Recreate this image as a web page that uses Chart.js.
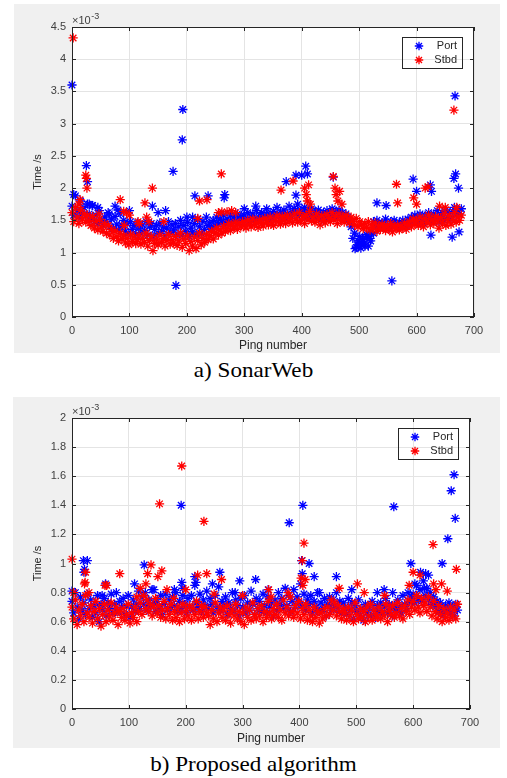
<!DOCTYPE html>
<html>
<head>
<meta charset="utf-8">
<script src="https://cdn.jsdelivr.net/npm/chart.js@4.4.1/dist/chart.umd.min.js"></script>
<style>
  body { margin: 0; background: #fff; width: 507px; height: 778px; position: relative; overflow: hidden; }
  .panel { position: absolute; background: #f0f0f0; }
  .cap { position: absolute; left: 0; width: 507px; text-align: center;
         font-family: "Liberation Serif", "Times New Roman", serif; font-size: 21px; line-height: 24px;
         color: #000; transform: scaleX(1.1); }
</style>
</head>
<body>
<div class="panel" style="left:14px;top:4px;width:486px;height:349px"><canvas id="chartA"></canvas></div>
<div class="cap" style="top:358px">a) SonarWeb</div>
<div class="panel" style="left:13px;top:397px;width:487px;height:351px"><canvas id="chartB"></canvas></div>
<div class="cap" style="top:752px">b) Proposed algorithm</div>
<script>
// Values are in units of 1e-3 s, sampled every PING_STEP pings (ping 0 .. 678)
const PING_STEP = 3;

// ---- a) SonarWeb ----
const portA = [
  1.72, 1.58, 1.88, 1.65, 1.55, 1.80, 1.62, 1.70, 1.57, 1.75,
  1.60, 1.52, 1.73, 1.48, 1.58, 1.45, 1.65, 1.50, 1.42, 1.55,
  1.48, 1.62, 1.40, 1.52, 1.37, 1.56, 1.44, 1.35, 1.60, 1.42,
  1.50, 1.33, 1.45, 1.30, 1.48, 1.36, 1.42, 1.28, 1.46, 1.38,
  1.30, 1.43, 1.34, 1.48, 1.27, 1.40, 1.45, 1.25, 1.36, 1.42,
  1.30, 1.46, 1.33, 1.40, 1.26, 1.38, 1.48, 1.31, 1.43, 1.35,
  1.45, 1.28, 1.40, 1.50, 1.27, 1.42, 1.33, 1.47, 1.25, 1.38,
  1.32, 1.45, 1.28, 1.52, 1.40, 1.30, 1.48, 1.36, 1.55, 1.42,
  1.46, 1.38, 1.50, 1.42, 1.55, 1.44, 1.52, 1.47, 1.58, 1.45,
  1.52, 1.48, 1.58, 1.45, 1.55, 1.50, 1.60, 1.47, 1.56, 1.52,
  1.58, 1.50, 1.62, 1.48, 1.55, 1.60, 1.52, 1.65, 1.50, 1.57,
  1.62, 1.53, 1.58, 1.68, 1.55, 1.60, 1.52, 1.64, 1.57, 1.70,
  1.55, 1.62, 1.58, 1.66, 1.53, 1.60, 1.72, 1.57, 1.63, 1.68,
  1.60, 1.75, 1.58, 1.66, 1.62, 1.70, 1.55, 1.64, 1.60, 1.68,
  1.57, 1.63, 1.55, 1.66, 1.60, 1.52, 1.62, 1.58, 1.65, 1.55,
  1.60, 1.68, 1.57, 1.63, 1.55, 1.66, 1.58, 1.62, 1.54, 1.60,
  1.55, 1.48, 1.40, 1.22, 1.30, 1.08, 1.18, 1.25, 1.12, 1.20,
  1.15, 1.28, 1.10, 1.22, 1.32, 1.48, 1.42, 1.50, 1.45, 1.38,
  1.46, 1.40, 1.52, 1.43, 1.37, 1.48, 1.41, 1.50, 1.44, 1.39,
  1.47, 1.42, 1.50, 1.45, 1.40, 1.52, 1.46, 1.55, 1.48, 1.58,
  1.53, 1.47, 1.60, 1.52, 1.45, 1.58, 1.50, 1.62, 1.48, 1.56,
  1.60, 1.52, 1.65, 1.48, 1.57, 1.62, 1.50, 1.66, 1.55, 1.60,
  1.52, 1.64, 1.70, 1.58, 1.66, 1.60, 1.68
];
const stbdA = [
  1.62, 1.48, 1.70, 1.55, 1.45, 1.66, 1.52, 1.60, 1.47, 1.58,
  1.50, 1.42, 1.56, 1.38, 1.48, 1.35, 1.52, 1.40, 1.33, 1.45,
  1.30, 1.42, 1.27, 1.36, 1.22, 1.33, 1.25, 1.18, 1.30, 1.21,
  1.26, 1.15, 1.22, 1.12, 1.28, 1.17, 1.24, 1.14, 1.20, 1.27,
  1.13, 1.22, 1.16, 1.30, 1.10, 1.19, 1.25, 1.03, 1.14, 1.21,
  1.12, 1.27, 1.16, 1.22, 1.10, 1.19, 1.28, 1.13, 1.20, 1.15,
  1.25, 1.11, 1.18, 1.30, 1.08, 1.21, 1.14, 1.26, 1.03, 1.17,
  1.10, 1.24, 1.06, 1.19, 1.30, 1.12, 1.22, 1.16, 1.28, 1.20,
  1.26, 1.33, 1.21, 1.30, 1.38, 1.27, 1.35, 1.30, 1.41, 1.33,
  1.37, 1.45, 1.34, 1.42, 1.38, 1.47, 1.36, 1.44, 1.40, 1.48,
  1.42, 1.38, 1.50, 1.44, 1.40, 1.52, 1.43, 1.47, 1.39, 1.51,
  1.45, 1.41, 1.53, 1.47, 1.43, 1.55, 1.46, 1.42, 1.50, 1.57,
  1.48, 1.44, 1.56, 1.50, 1.45, 1.58, 1.49, 1.53, 1.46, 1.60,
  1.52, 1.47, 1.62, 1.50, 1.56, 1.45, 1.58, 1.51, 1.64, 1.49,
  1.55, 1.47, 1.60, 1.52, 1.43, 1.57, 1.50, 1.46, 1.59, 1.53,
  1.48, 1.62, 1.51, 1.56, 1.45, 1.60, 1.50, 1.55, 1.47, 1.58,
  1.52, 1.46, 1.55, 1.49, 1.43, 1.53, 1.40, 1.48, 1.44, 1.37,
  1.45, 1.39, 1.48, 1.35, 1.43, 1.38, 1.46, 1.33, 1.41, 1.36,
  1.44, 1.38, 1.34, 1.42, 1.36, 1.45, 1.32, 1.40, 1.37, 1.43,
  1.35, 1.41, 1.38, 1.46, 1.36, 1.43, 1.48, 1.40, 1.52, 1.44,
  1.50, 1.42, 1.55, 1.46, 1.40, 1.53, 1.47, 1.58, 1.43, 1.51,
  1.45, 1.56, 1.49, 1.38, 1.54, 1.46, 1.60, 1.42, 1.51, 1.57,
  1.44, 1.52, 1.62, 1.47, 1.55, 1.50, 1.58
];
// isolated points (ping, time)
const portAOutPing = [0, 3, 25, 27, 30, 35, 45, 65, 75, 80, 100, 140, 150, 163, 176, 181, 192, 193, 200, 210,
  214, 237, 265, 266, 300, 320, 373, 390, 390, 400, 407, 410, 455, 493, 497, 500, 503, 506, 510, 515,
  520, 525, 531, 547, 557, 594, 600, 624, 625, 626, 662, 665, 667, 668, 673, 674];
const portAOutTime = [3.60, 1.90, 2.35, 2.10, 1.75, 1.73, 1.70, 1.60, 1.72, 1.66, 1.65, 1.72, 1.62, 1.65, 2.26, 0.49, 2.75, 3.22, 1.55, 1.55,
  1.88, 1.88, 1.85, 1.90, 1.68, 1.72, 2.10, 2.20, 1.89, 2.20, 2.34, 2.22, 2.17, 1.06, 1.12, 1.15, 1.07, 1.20, 1.10, 1.25,
  1.18, 1.30, 1.77, 1.73, 0.56, 2.14, 1.95, 2.05, 1.27, 1.95, 1.24, 2.15, 3.43, 2.22, 2.00, 1.32];
const stbdAOutPing = [2, 12, 14, 24, 25, 26, 47, 84, 90, 91, 95, 100, 115, 117, 127, 130, 134, 140, 160, 219,
  222, 235, 255, 260, 261, 270, 278, 285, 364, 385, 405, 408, 410, 412, 415, 455, 458, 460, 463, 466,
  470, 565, 567, 595, 600, 615, 620, 640, 650, 665, 670];
const stbdAOutTime = [4.33, 1.75, 1.82, 2.20, 2.15, 2.00, 1.60, 1.82, 1.64, 1.42, 1.62, 1.58, 1.48, 1.45, 1.77, 1.55, 1.48, 2.00, 1.48, 1.53,
  1.80, 1.82, 1.62, 2.22, 1.63, 1.63, 1.65, 1.62, 1.97, 2.11, 2.00, 1.90, 1.80, 2.05, 1.75, 2.18, 2.00, 1.90, 1.80, 1.95,
  1.75, 2.06, 1.77, 1.85, 1.75, 2.00, 2.02, 1.72, 1.70, 3.21, 1.70];

// ---- b) Proposed algorithm ----
const portB = [
  0.74, 0.66, 0.80, 0.70, 0.62, 0.77, 0.68, 0.73, 0.65, 0.79,
  0.69, 0.75, 0.63, 0.71, 0.66, 0.78, 0.60, 0.72, 0.68, 0.76,
  0.64, 0.73, 0.69, 0.79, 0.66, 0.72, 0.80, 0.67, 0.74, 0.70,
  0.76, 0.65, 0.71, 0.78, 0.63, 0.70, 0.75, 0.67, 0.72, 0.81,
  0.69, 0.77, 0.72, 0.80, 0.68, 0.75, 0.71, 0.82, 0.73, 0.67,
  0.74, 0.69, 0.78, 0.65, 0.72, 0.79, 0.68, 0.75, 0.70, 0.77,
  0.71, 0.80, 0.67, 0.74, 0.69, 0.83, 0.72, 0.66, 0.76, 0.70,
  0.78, 0.68, 0.85, 0.73, 0.70, 0.79, 0.67, 0.75, 0.71, 0.81,
  0.69, 0.76, 0.72, 0.66, 0.78, 0.70, 0.84, 0.68, 0.74, 0.71,
  0.77, 0.65, 0.73, 0.69, 0.80, 0.67, 0.75, 0.71, 0.64, 0.76,
  0.70, 0.78, 0.66, 0.73, 0.68, 0.81, 0.72, 0.65, 0.76, 0.69,
  0.74, 0.67, 0.79, 0.71, 0.66, 0.77, 0.70, 0.73, 0.64, 0.75,
  0.68, 0.80, 0.72, 0.76, 0.69, 0.83, 0.71, 0.78, 0.67, 0.74,
  0.82, 0.70, 0.77, 0.73, 0.86, 0.71, 0.79, 0.68, 0.75, 0.72,
  0.78, 0.66, 0.74, 0.70, 0.80, 0.67, 0.73, 0.69, 0.76, 0.64,
  0.72, 0.77, 0.68, 0.75, 0.71, 0.80, 0.69, 0.74, 0.66, 0.73,
  0.70, 0.65, 0.76, 0.68, 0.73, 0.62, 0.71, 0.67, 0.75, 0.64,
  0.69, 0.61, 0.72, 0.66, 0.70, 0.64, 0.74, 0.68, 0.63, 0.71,
  0.67, 0.73, 0.65, 0.70, 0.76, 0.66, 0.72, 0.69, 0.64, 0.71,
  0.68, 0.75, 0.70, 0.66, 0.78, 0.72, 0.69, 0.80, 0.74, 0.77,
  0.79, 0.73, 0.85, 0.76, 0.82, 0.74, 0.88, 0.78, 0.83, 0.75,
  0.80, 0.72, 0.77, 0.70, 0.74, 0.67, 0.73, 0.69, 0.65, 0.71,
  0.68, 0.73, 0.66, 0.70, 0.64, 0.72, 0.68
];
const stbdB = [
  0.70, 0.62, 0.75, 0.58, 0.68, 0.64, 0.72, 0.60, 0.78, 0.66,
  0.63, 0.71, 0.59, 0.67, 0.74, 0.62, 0.69, 0.57, 0.65, 0.72,
  0.60, 0.68, 0.64, 0.73, 0.61, 0.66, 0.70, 0.58, 0.67, 0.63,
  0.69, 0.61, 0.65, 0.72, 0.59, 0.66, 0.63, 0.70, 0.60, 0.67,
  0.73, 0.65, 0.78, 0.69, 0.75, 0.67, 0.72, 0.64, 0.70, 0.76,
  0.66, 0.71, 0.63, 0.68, 0.74, 0.62, 0.69, 0.65, 0.72, 0.61,
  0.67, 0.63, 0.70, 0.60, 0.66, 0.72, 0.62, 0.68, 0.64, 0.71,
  0.61, 0.69, 0.65, 0.74, 0.62, 0.67, 0.71, 0.63, 0.70, 0.66,
  0.64, 0.58, 0.68, 0.62, 0.73, 0.60, 0.66, 0.70, 0.63, 0.68,
  0.61, 0.71, 0.65, 0.59, 0.68, 0.64, 0.72, 0.62, 0.67, 0.60,
  0.66, 0.58, 0.70, 0.63, 0.68, 0.61, 0.73, 0.65, 0.62, 0.69,
  0.64, 0.71, 0.60, 0.67, 0.63, 0.74, 0.66, 0.62, 0.69, 0.65,
  0.72, 0.63, 0.68, 0.61, 0.75, 0.66, 0.70, 0.64, 0.77, 0.67,
  0.63, 0.71, 0.66, 0.74, 0.62, 0.69, 0.65, 0.72, 0.61, 0.68,
  0.64, 0.60, 0.70, 0.63, 0.67, 0.59, 0.66, 0.62, 0.69, 0.64,
  0.70, 0.65, 0.75, 0.68, 0.73, 0.64, 0.71, 0.67, 0.62, 0.69,
  0.66, 0.61, 0.70, 0.64, 0.68, 0.60, 0.73, 0.65, 0.62, 0.69,
  0.63, 0.67, 0.60, 0.70, 0.64, 0.72, 0.61, 0.68, 0.65, 0.63,
  0.70, 0.62, 0.67, 0.64, 0.72, 0.60, 0.68, 0.65, 0.71, 0.63,
  0.66, 0.73, 0.64, 0.69, 0.62, 0.71, 0.67, 0.75, 0.65, 0.70,
  0.74, 0.68, 0.78, 0.70, 0.66, 0.76, 0.71, 0.73, 0.67, 0.77,
  0.70, 0.64, 0.74, 0.67, 0.62, 0.71, 0.65, 0.60, 0.69, 0.63,
  0.66, 0.61, 0.70, 0.64, 0.68, 0.62, 0.72
];
const portBOutPing = [0, 20, 21, 22, 27, 53, 59, 110, 127, 144, 180, 192, 193, 195, 216, 218, 247, 260, 287, 295,
  323, 345, 382, 404, 405, 406, 417, 426, 435, 465, 492, 537, 549, 564, 566, 596, 603, 613, 620, 622,
  627, 651, 661, 667, 672, 674];
const portBOutTime = [0.81, 1.02, 0.94, 0.96, 1.02, 0.78, 0.86, 0.86, 0.99, 0.82, 0.82, 1.40, 0.87, 0.78, 0.91, 0.87, 0.86, 0.94, 0.80, 0.88,
  0.89, 0.82, 1.28, 1.02, 0.93, 1.40, 1.00, 0.91, 0.80, 0.91, 0.82, 0.80, 0.82, 0.80, 1.39, 1.00, 0.86, 0.94, 0.83, 0.93,
  0.92, 1.00, 1.17, 1.50, 1.61, 1.31];
const stbdBOutPing = [0, 3, 22, 23, 24, 30, 58, 61, 84, 114, 120, 130, 133, 139, 151, 154, 158, 167, 179, 193,
  200, 221, 232, 237, 250, 263, 300, 346, 350, 380, 403, 405, 406, 408, 410, 470, 502, 514, 550, 593,
  600, 612, 635, 636, 640, 650, 660, 676];
const stbdBOutTime = [1.03, 0.80, 0.86, 0.87, 0.94, 0.80, 0.85, 0.85, 0.93, 0.77, 0.83, 0.86, 0.93, 0.99, 0.91, 1.41, 0.95, 0.82, 0.76, 1.67,
  0.82, 0.92, 1.29, 0.93, 0.79, 0.89, 0.78, 0.82, 0.77, 0.80, 0.90, 1.02, 0.85, 1.14, 0.89, 0.83, 0.86, 0.80, 0.78, 0.85,
  0.94, 0.92, 1.13, 0.86, 0.82, 0.86, 0.81, 0.96];

const FONT = '"Liberation Sans", Arial, sans-serif';
const TICK_COLOR = '#404040';
const AXIS_COLOR = '#262626';

function toPoints(vals, outPing, outTime) {
  const pts = vals.map((v, i) => ({ x: i * PING_STEP, y: v }));
  outPing.forEach((p, k) => pts.push({ x: p, y: outTime[k] }));
  return pts;
}

// white plot area, MATLAB style box with inward ticks, exponent label and legend frame
const matlabAxes = {
  id: 'matlabAxes',
  beforeDraw(chart) {
    const { ctx, chartArea: a } = chart;
    ctx.save();
    ctx.fillStyle = '#ffffff';
    ctx.fillRect(a.left, a.top, a.right - a.left, a.bottom - a.top);
    ctx.restore();
  },
  afterLayout(chart) {
    const a = chart.chartArea, lg = chart.legend;
    lg.left = a.right - 63.5;
    lg.right = a.right - 17;
    lg.top = a.top + 10.5;
    lg.bottom = a.top + 42;
    lg.width = lg.right - lg.left;
    lg.height = lg.bottom - lg.top;
  },
  afterDraw(chart) {
    const { ctx, chartArea: a, scales: { x, y } } = chart;
    ctx.save();
    ctx.strokeStyle = AXIS_COLOR;
    ctx.lineWidth = 1;
    ctx.beginPath();
    x.ticks.forEach(t => {
      const px = Math.round(x.getPixelForValue(t.value)) + 0.5;
      ctx.moveTo(px, a.bottom); ctx.lineTo(px, a.bottom - 4);
      ctx.moveTo(px, a.top); ctx.lineTo(px, a.top + 4);
    });
    y.ticks.forEach(t => {
      const py = Math.round(y.getPixelForValue(t.value)) + 0.5;
      ctx.moveTo(a.left, py); ctx.lineTo(a.left + 4, py);
      ctx.moveTo(a.right, py); ctx.lineTo(a.right - 4, py);
    });
    ctx.stroke();
    ctx.strokeRect(a.left + 0.5, a.top + 0.5, a.right - a.left - 1, a.bottom - a.top - 1);
    // legend frame
    ctx.strokeRect(a.right - 72 + 0.5, a.top + 10 + 0.5, 60, 31);
    // exponent label
    ctx.fillStyle = TICK_COLOR;
    ctx.textBaseline = 'alphabetic';
    ctx.font = '11px ' + FONT;
    ctx.fillText('\u00d710', a.left, a.top - 3);
    const w = ctx.measureText('\u00d710').width;
    ctx.font = '9px ' + FONT;
    ctx.fillText('-3', a.left + w + 0.5, a.top - 8);
    ctx.restore();
  }
};

function makeChart(id, port, stbd, yMax, yStep, box) {
  return new Chart(document.getElementById(id), {
    type: 'scatter',
    data: {
      datasets: [
        { label: 'Port', data: port, borderColor: '#0000ff', backgroundColor: '#0000ff',
          pointStyle: 'star', pointRadius: 4.6, borderWidth: 1.3, order: 1, clip: false },
        { label: 'Stbd', data: stbd, borderColor: '#ff0000', backgroundColor: '#ff0000',
          pointStyle: 'star', pointRadius: 4.6, borderWidth: 1.3, order: 0, clip: false }
      ]
    },
    options: {
      responsive: true,
      maintainAspectRatio: false,
      animation: false,
      devicePixelRatio: 1,
      layout: { padding: { top: box.top, right: box.right, left: 0, bottom: 0 } },
      plugins: {
        tooltip: { enabled: false },
        legend: {
          position: 'chartArea',
          align: 'start',
          labels: {
            usePointStyle: true,
            boxWidth: 11,
            boxHeight: 6,
            padding: 3,
            textAlign: 'right',
            color: AXIS_COLOR,
            font: { family: FONT, size: 11 },
            sort: (p, q) => p.datasetIndex - q.datasetIndex
          }
        }
      },
      scales: {
        x: {
          type: 'linear', min: 0, max: 700,
          ticks: { stepSize: 100, color: TICK_COLOR, padding: box.xTickPad, font: { family: FONT, size: 11 } },
          grid: { color: '#e4e4e4', drawTicks: false },
          border: { display: false },
          title: { display: true, text: 'Ping number', color: AXIS_COLOR,
                   font: { family: FONT, size: 12 }, padding: { top: 0, bottom: box.xTitlePad } },
          afterFit: s => { s.height = box.xHeight; }
        },
        y: {
          type: 'linear', min: 0, max: yMax,
          ticks: { stepSize: yStep, color: TICK_COLOR, padding: 6, font: { family: FONT, size: 11 },
                   callback: v => String(Number(v.toFixed(2))) },
          grid: { color: '#e4e4e4', drawTicks: false },
          border: { display: false },
          title: { display: true, text: 'Time /s', color: AXIS_COLOR,
                   font: { family: FONT, size: 11 }, padding: { top: box.yTitlePad, bottom: 0 } },
          afterFit: s => { s.width = box.yWidth; }
        }
      }
    },
    plugins: [matlabAxes]
  });
}

makeChart('chartA',
  toPoints(portA, portAOutPing, portAOutTime),
  toPoints(stbdA, stbdAOutPing, stbdAOutTime),
  4.5, 0.5,
  { top: 23, right: 26, yWidth: 58, xHeight: 36, yTitlePad: 17.4, xTitlePad: 0, xTickPad: 7 });

makeChart('chartB',
  toPoints(portB, portBOutPing, portBOutTime),
  toPoints(stbdB, stbdBOutPing, stbdBOutTime),
  2, 0.2,
  { top: 21, right: 30, yWidth: 59, xHeight: 39, yTitlePad: 18.7, xTitlePad: 2.5, xTickPad: 7 });
</script>
</body>
</html>
